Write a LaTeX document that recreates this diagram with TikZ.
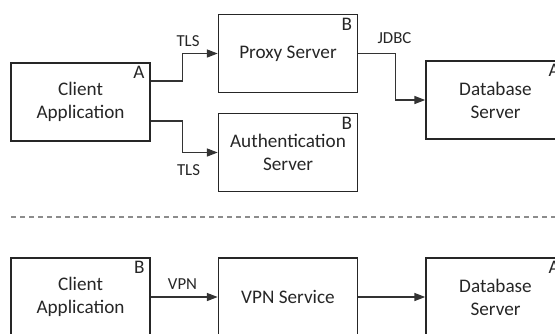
\documentclass[tikz,border=0pt]{standalone}
\usepackage{fontspec}
\setmainfont{Carlito}
\usetikzlibrary{arrows.meta}
\tikzset{
  box/.style={draw=black!85, line width=1.3pt, minimum width=104.25pt, minimum height=58.5pt, inner sep=0pt, align=center, text=black!85, font=\fontsize{14.4pt}{17.3pt}\selectfont},
  corner/.style={inner sep=0pt, anchor=north east, text=black!85, font=\fontsize{14.4pt}{17.3pt}\selectfont},
  conn/.style={draw=black!80, line width=0.8pt, -{Triangle[length=8pt,width=6pt]}},
  lbl/.style={inner sep=0pt, text=black!85, font=\fontsize{12.6pt}{15pt}\selectfont},
  sep/.style={draw=black!45, line width=1pt, dash pattern=on 3.75pt off 3pt}
}
\begin{document}
\begin{tikzpicture}[x=0.75pt, y=-0.75pt]
\useasboundingbox (0,0) rectangle (555,333);
\clip (0,0) rectangle (555,333);
% top scenario
\node[box] (ca1) at (80.5,102) {Client\\Application};
\node[box] (ps) at (288,53.5) {Proxy Server};
\node[box] (as) at (288,152.5) {Authentication\\Server};
\node[box] (db1) at (495.5,100) {Database\\Server};
\node[corner] (ca1l) at ([xshift=-4.5pt,yshift=-3pt]ca1.north east) {A};
\node[corner] (psl) at ([xshift=-4.5pt,yshift=-3pt]ps.north east) {B};
\node[corner] (asl) at ([xshift=-4.5pt,yshift=-3pt]as.north east) {B};
\node[corner] (db1l) at ([xshift=-4.5pt,yshift=-3pt]db1.north east) {A};
\draw[conn] ([yshift=15.75pt]ca1.east) -- ++(32,0) |- (ps.west);
\draw[conn] ([yshift=-14.25pt]ca1.east) -- ++(32,0) |- (as.west);
\draw[conn] (ps.east) -- ++(37,0) |- (db1.west);
\node[lbl] (tls1) at (188,41) {TLS};
\node[lbl] (tls2) at (188.5,170) {TLS};
\node[lbl] (jdbc) at (394.5,38.5) {JDBC};
% separator
\draw[sep] (11,217) -- (560,217);
% bottom scenario
\node[box] (ca2) at (80.5,297) {Client\\Application};
\node[box] (vpn) at (288,297) {VPN Service};
\node[box] (db2) at (495.5,297) {Database\\Server};
\node[corner] (ca2l) at ([xshift=-4.5pt,yshift=-3pt]ca2.north east) {B};
\node[corner] (db2l) at ([xshift=-4.5pt,yshift=-3pt]db2.north east) {A};
\draw[conn] (ca2.east) -- (vpn.west);
\draw[conn] (vpn.east) -- (db2.west);
\node[lbl] (vpnl) at (182.5,284) {VPN};
\end{tikzpicture}
\end{document}
